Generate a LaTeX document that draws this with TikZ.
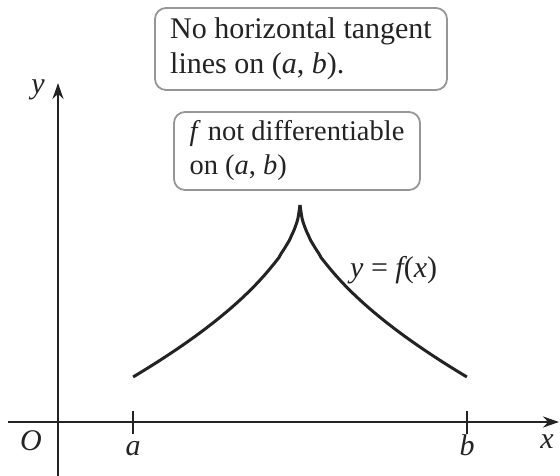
\documentclass[tikz,border=0pt]{standalone}
\usepackage{fontspec}
\setmainfont{Liberation Serif}
\usetikzlibrary{arrows.meta}
\definecolor{ink}{RGB}{35,35,35}
\definecolor{boxgray}{RGB}{150,150,150}
\begin{document}
\begin{tikzpicture}[x=1pt,y=-1pt,
  axis/.style={line width=2.6pt,draw=ink,-{Stealth[length=16pt,width=11pt]}},
  tick/.style={line width=2.4pt,draw=ink},
  curve/.style={line width=3pt,draw=ink},
  callout/.style={draw=boxgray,line width=1.8pt,rounded corners=11pt,align=left,
    font=\fontsize{30}{34.5}\selectfont,text=ink,inner sep=0pt},
  lbl/.style={font=\fontsize{30}{34}\selectfont\itshape,text=ink,inner sep=0pt}]
\useasboundingbox (0,0) rectangle (560,476);
% axes
\coordinate (xs) at (8,422);
\coordinate (xe) at (559,422);
\coordinate (ys) at (58,476);
\coordinate (ye) at (58,83);
\draw[axis] (xs) -- (xe);
\draw[axis] (ys) -- (ye);
% ticks
\coordinate (at) at (133,411); \coordinate (ab) at (133,434);
\coordinate (bt) at (467,411); \coordinate (bb) at (467,434);
\draw[tick] (at) -- (ab);
\draw[tick] (bt) -- (bb);
% labels
\node[lbl] (O) at (31,441) {O};
\node[lbl] (la) at (133,449) {a};
\node[lbl] (lb) at (467,445) {b};
\node[lbl] (lx) at (547,442) {x};
\node[lbl] (ly) at (38,90) {y};
% curve
\draw[curve] plot[domain=0:1,samples=80,smooth] ({300-167*\x},{205+172*(\x)^0.58});
\draw[curve] plot[domain=0:1,samples=80,smooth] ({300+167*\x},{205+172*(\x)^0.58});
\node[lbl,anchor=west] (fx) at (350,270) {y \upshape{}= \itshape{}f\upshape{}(\itshape{}x\upshape{})};
% callouts
\node[callout,minimum width=292pt,minimum height=82pt] (box1) at (301,49)
  {No horizontal tangent\\lines on (\textit{a}, \textit{b}).};
\node[callout,minimum width=246pt,minimum height=78pt,font=\fontsize{28.5}{34}\selectfont] (box2) at (297,151)
  {\textit{f} not differentiable\\on (\textit{a}, \textit{b})};
\end{tikzpicture}
\end{document}
